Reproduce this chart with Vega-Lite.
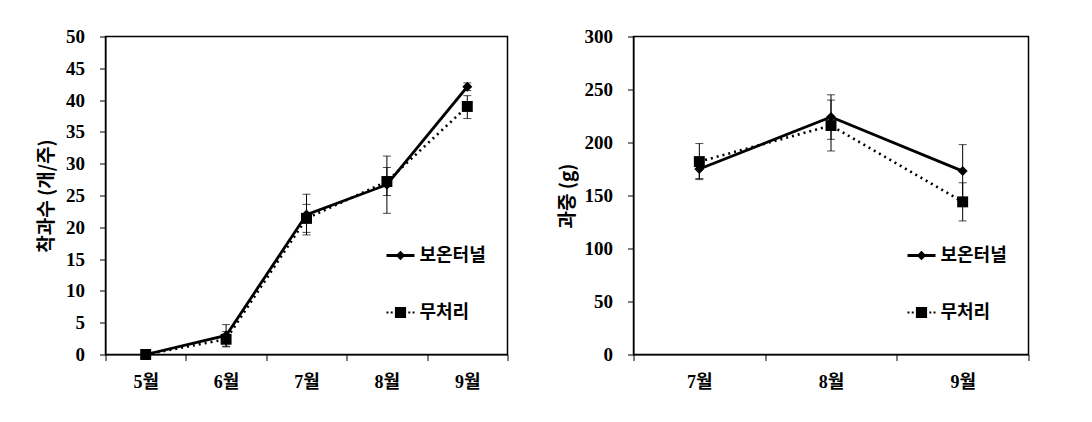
{
  "$schema": "https://vega.github.io/schema/vega-lite/v6.json",
  "autosize": {"type": "pad"},
  "padding": {"left": 35.5, "top": 26.5, "right": 0, "bottom": 0},
  "bounds": "flush",
  "spacing": 126,
  "background": "white",
  "resolve": {"scale": {"shape": "independent"}, "legend": {"shape": "independent"}},
  "config": {
    "view": {"stroke": "black", "strokeWidth": 1.5},
    "axis": {
      "labelFont": "Liberation Serif, Noto Sans CJK KR",
      "labelFontWeight": "bold",
      "labelFontSize": 19,
      "labelColor": "black",
      "tickColor": "black",
      "domainColor": "black",
      "tickSize": 6,
      "grid": false,
      "titleFont": "Noto Sans CJK KR",
      "titleFontWeight": "bold",
      "titleColor": "black",
      "titleFontSize": 19
    },
    "legend": {
      "labelFont": "Noto Sans CJK KR",
      "labelFontWeight": "bold",
      "labelFontSize": 18,
      "labelColor": "black",
      "padding": 0
    }
  },
  "datasets": {
    "left": [
      {"month": "5월", "series": "보온터널", "value": 0, "lo": 0, "hi": 0},
      {"month": "6월", "series": "보온터널", "value": 3.0, "lo": 1.3, "hi": 4.7},
      {"month": "7월", "series": "보온터널", "value": 22.0, "lo": 18.8, "hi": 25.2},
      {"month": "8월", "series": "보온터널", "value": 26.7, "lo": 22.2, "hi": 31.2},
      {"month": "9월", "series": "보온터널", "value": 42.1, "lo": 41.5, "hi": 42.7},
      {"month": "5월", "series": "무처리", "value": 0, "lo": 0, "hi": 0},
      {"month": "6월", "series": "무처리", "value": 2.4, "lo": 1.2, "hi": 3.6},
      {"month": "7월", "series": "무처리", "value": 21.4, "lo": 19.2, "hi": 23.6},
      {"month": "8월", "series": "무처리", "value": 27.2, "lo": 25.0, "hi": 29.4},
      {"month": "9월", "series": "무처리", "value": 39.0, "lo": 37.1, "hi": 40.7}
    ],
    "right": [
      {"month": "7월", "series": "보온터널", "value": 175, "lo": 165, "hi": 186},
      {"month": "8월", "series": "보온터널", "value": 224, "lo": 203, "hi": 245},
      {"month": "9월", "series": "보온터널", "value": 173, "lo": 148, "hi": 198},
      {"month": "7월", "series": "무처리", "value": 182, "lo": 166, "hi": 199},
      {"month": "8월", "series": "무처리", "value": 216, "lo": 192, "hi": 240},
      {"month": "9월", "series": "무처리", "value": 144, "lo": 126, "hi": 162}
    ]
  },
  "hconcat": [
    {
      "width": 402,
      "height": 318,
      "data": {"name": "left"},
      "encoding": {
        "x": {"field": "month", "type": "ordinal", "sort": ["5월", "6월", "7월", "8월", "9월"],
              "scale": {"paddingInner": 0, "paddingOuter": 0},
              "axis": {"title": null, "labelAngle": 0, "tickBand": "extent", "labelPadding": 13, "labelFontSize": 18}},
        "y": {"field": "value", "type": "quantitative", "scale": {"domain": [0, 50], "nice": false},
              "axis": {"title": "착과수 (개/주)", "values": [0,5,10,15,20,25,30,35,40,45,50], "labelPadding": 15, "titlePadding": 9.5}}
      },
      "layer": [
        {
          "mark": {"type": "errorbar", "ticks": {"size": 8}, "color": "black", "thickness": 1},
          "encoding": {
            "y": {"field": "lo", "type": "quantitative", "scale": {"domain": [0, 50], "nice": false},
                  "axis": {"title": "착과수 (개/주)", "values": [0,5,10,15,20,25,30,35,40,45,50], "labelPadding": 15, "titlePadding": 9.5}},
            "y2": {"field": "hi"}
          }
        },
        {
          "transform": [{"filter": "datum.series == '보온터널'"}],
          "mark": {"type": "line", "color": "black", "strokeWidth": 2.8},
          "encoding": {}
        },
        {
          "transform": [{"filter": "datum.series == '무처리'"}],
          "mark": {"type": "line", "color": "black", "strokeWidth": 2.6, "strokeDash": [2, 4]},
          "encoding": {}
        },
        {
          "transform": [{"filter": "datum.series == '보온터널'"}],
          "mark": {"type": "point", "shape": "diamond", "filled": true, "color": "black", "opacity": 1, "size": 100},
          "encoding": {}
        },
        {
          "transform": [{"filter": "datum.series == '무처리'"}],
          "mark": {"type": "point", "shape": "square", "filled": true, "color": "black", "opacity": 1, "size": 120},
          "encoding": {}
        },
        {
          "transform": [{"filter": "false"}],
          "mark": {"type": "point", "filled": true, "color": "black", "opacity": 1},
          "encoding": {
            "shape": {"field": "series", "type": "nominal",
              "scale": {"domain": ["보온터널", "무처리"], "range": [
                "M-1,-0.1H1V0.1H-1Z M0,-0.34L0.34,0L0,0.34L-0.34,0Z",
                "M-1,-0.07h0.14v0.14h-0.14Z M-0.7,-0.07h0.14v0.14h-0.14Z M0.56,-0.07h0.14v0.14h-0.14Z M0.86,-0.07h0.14v0.14h-0.14Z M-0.4,-0.4H0.4V0.4H-0.4Z"
              ]},
              "legend": {"title": null, "orient": "none", "legendX": 281, "legendY": 205, "symbolSize": 784, "rowPadding": 34, "labelOffset": 5, "symbolStrokeWidth": 0, "symbolFillColor": "black", "symbolOpacity": 1}}
          }
        }
      ]
    },
    {
      "width": 395,
      "height": 318,
      "data": {"name": "right"},
      "encoding": {
        "x": {"field": "month", "type": "ordinal", "sort": ["7월", "8월", "9월"],
              "scale": {"paddingInner": 0, "paddingOuter": 0},
              "axis": {"title": null, "labelAngle": 0, "tickBand": "extent", "labelPadding": 13, "labelFontSize": 18}},
        "y": {"field": "value", "type": "quantitative", "scale": {"domain": [0, 300], "nice": false},
              "axis": {"title": "과중 (g)", "values": [0,50,100,150,200,250,300], "labelPadding": 15, "titlePadding": 7}}
      },
      "layer": [
        {
          "mark": {"type": "errorbar", "ticks": {"size": 8}, "color": "black", "thickness": 1},
          "encoding": {
            "y": {"field": "lo", "type": "quantitative", "scale": {"domain": [0, 300], "nice": false},
                  "axis": {"title": "과중 (g)", "values": [0,50,100,150,200,250,300], "labelPadding": 15, "titlePadding": 7}},
            "y2": {"field": "hi"}
          }
        },
        {
          "transform": [{"filter": "datum.series == '보온터널'"}],
          "mark": {"type": "line", "color": "black", "strokeWidth": 2.8},
          "encoding": {}
        },
        {
          "transform": [{"filter": "datum.series == '무처리'"}],
          "mark": {"type": "line", "color": "black", "strokeWidth": 2.6, "strokeDash": [2, 4]},
          "encoding": {}
        },
        {
          "transform": [{"filter": "datum.series == '보온터널'"}],
          "mark": {"type": "point", "shape": "diamond", "filled": true, "color": "black", "opacity": 1, "size": 100},
          "encoding": {}
        },
        {
          "transform": [{"filter": "datum.series == '무처리'"}],
          "mark": {"type": "point", "shape": "square", "filled": true, "color": "black", "opacity": 1, "size": 120},
          "encoding": {}
        },
        {
          "transform": [{"filter": "false"}],
          "mark": {"type": "point", "filled": true, "color": "black", "opacity": 1},
          "encoding": {
            "shape": {"field": "series", "type": "nominal",
              "scale": {"domain": ["보온터널", "무처리"], "range": [
                "M-1,-0.1H1V0.1H-1Z M0,-0.34L0.34,0L0,0.34L-0.34,0Z",
                "M-1,-0.07h0.14v0.14h-0.14Z M-0.7,-0.07h0.14v0.14h-0.14Z M0.56,-0.07h0.14v0.14h-0.14Z M0.86,-0.07h0.14v0.14h-0.14Z M-0.4,-0.4H0.4V0.4H-0.4Z"
              ]},
              "legend": {"title": null, "orient": "none", "legendX": 274, "legendY": 205, "symbolSize": 784, "rowPadding": 34, "labelOffset": 5, "symbolStrokeWidth": 0, "symbolFillColor": "black", "symbolOpacity": 1}}
          }
        }
      ]
    }
  ]
}
